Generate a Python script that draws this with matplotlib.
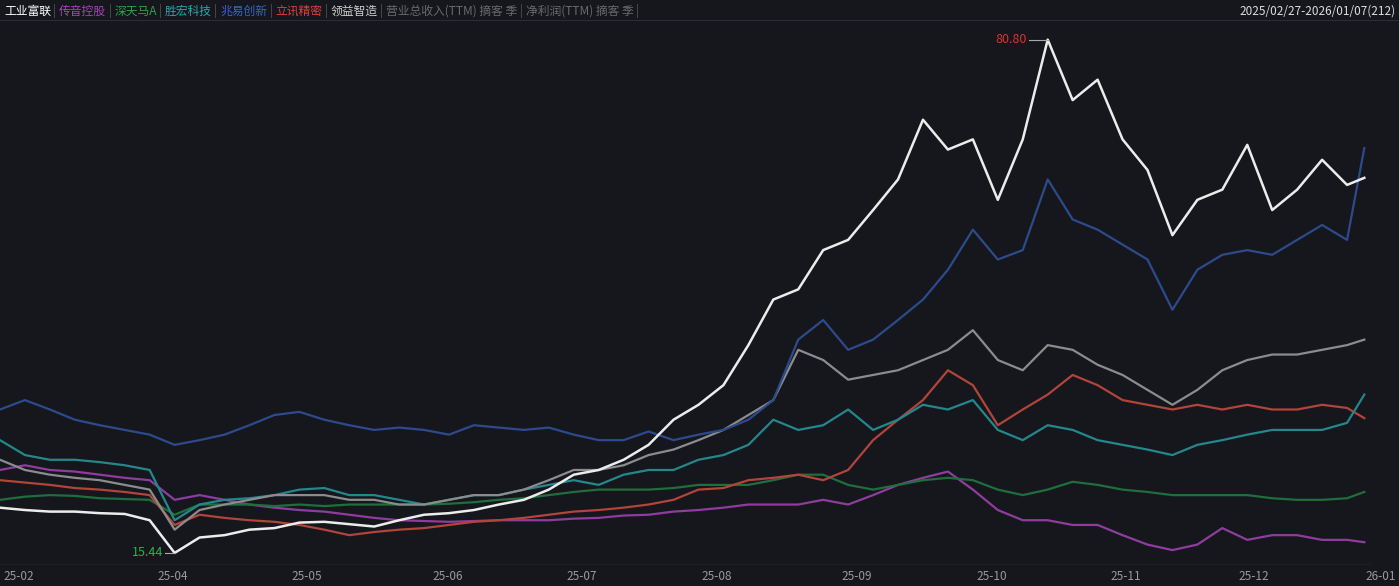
import numpy as np
import matplotlib
matplotlib.use("Agg")
import matplotlib.pyplot as plt

plt.rcParams['font.family'] = ['Noto Sans CJK SC', 'DejaVu Sans']

days = list(np.arange(55) * 3.9) + [213.3]
tick_pos = [1, 27, 48, 70, 91, 112, 134, 155, 176, 196, 214]
tick_labels = ['25-02', '25-04', '25-05', '25-06', '25-07', '25-08', '25-09', '25-10', '25-11', '25-12', '26-01']

white = [21.2,20.9,20.7,20.7,20.5,20.4,19.6,15.44,17.4,17.7,18.4,18.6,19.3,19.4,19.1,18.8,19.6,20.3,20.5,20.9,
         21.6,22.2,23.5,25.4,26.0,27.3,29.2,32.4,34.3,36.8,41.9,47.7,49.0,54.0,55.3,59.1,63.0,70.6,66.8,68.1,
         60.4,68.1,80.8,73.1,75.7,68.1,64.2,55.9,60.4,61.7,67.4,59.1,61.7,65.5,62.3,63.2]
navy = [33.7,34.9,33.7,32.4,31.7,31.1,30.5,29.2,29.8,30.5,31.7,33.0,33.4,32.4,31.7,31.1,31.4,31.1,30.5,31.7,
        31.4,31.1,31.4,30.5,29.8,29.8,30.9,29.8,30.5,31.1,32.4,34.9,42.6,45.1,41.3,42.6,45.1,47.7,51.5,56.6,
        52.8,54.0,63.0,57.9,56.6,54.7,52.8,46.4,51.5,53.4,54.0,53.4,55.3,57.2,55.3,67.0]
teal = [29.8,27.9,27.3,27.3,27.0,26.6,26.0,19.6,21.6,22.2,22.4,22.8,23.5,23.7,22.8,22.8,22.2,21.6,22.2,22.8,
        22.8,23.5,24.1,24.7,24.1,25.4,26.0,26.0,27.3,27.9,29.2,32.4,31.1,31.7,33.7,31.1,32.4,34.3,33.7,34.9,
        31.1,29.8,31.7,31.1,29.8,29.2,28.6,27.9,29.2,29.8,30.5,31.1,31.1,31.1,32.0,35.6]
gray = [27.3,26.0,25.4,25.0,24.7,24.1,23.5,18.4,20.9,21.6,22.2,22.8,22.8,22.8,22.2,22.2,21.6,21.6,22.2,22.8,
        22.8,23.5,24.7,26.0,26.0,26.6,27.9,28.6,29.8,31.1,33.0,34.9,41.3,40.0,37.5,38.1,38.7,40.0,41.3,43.8,
        40.0,38.7,41.9,41.3,39.4,38.1,36.2,34.3,36.2,38.7,40.0,40.7,40.7,41.3,41.9,42.6]
red = [24.7,24.4,24.1,23.7,23.5,23.2,22.8,19.0,20.3,19.9,19.6,19.4,19.0,18.4,17.7,18.1,18.4,18.6,19.0,19.4,
       19.6,19.9,20.3,20.7,20.9,21.2,21.6,22.2,23.5,23.7,24.7,25.0,25.4,24.7,26.0,29.8,32.4,34.9,38.7,36.8,
       31.7,33.7,35.6,38.1,36.8,34.9,34.3,33.7,34.3,33.7,34.3,33.7,33.7,34.3,33.9,32.6]
green = [22.2,22.6,22.8,22.7,22.4,22.3,22.2,20.3,21.6,21.6,21.6,21.4,21.6,21.4,21.6,21.6,21.6,21.6,21.7,21.9,
         22.2,22.4,22.8,23.2,23.5,23.5,23.5,23.7,24.1,24.1,24.1,24.7,25.4,25.4,24.1,23.5,24.1,24.7,25.0,24.7,
         23.5,22.8,23.5,24.5,24.1,23.5,23.2,22.8,22.8,22.8,22.8,22.4,22.2,22.2,22.4,23.2]
purple = [26.0,26.6,26.0,25.8,25.4,25.0,24.7,22.2,22.8,22.2,21.6,21.2,20.9,20.7,20.3,19.9,19.6,19.5,19.4,19.5,
          19.6,19.6,19.6,19.8,19.9,20.2,20.3,20.7,20.9,21.2,21.6,21.6,21.6,22.2,21.6,22.8,24.1,25.0,25.8,23.5,
          20.9,19.6,19.6,19.0,19.0,17.7,16.5,15.8,16.5,18.6,17.1,17.7,17.7,17.1,17.1,16.8]

bg = '#15171d'
fig = plt.figure(figsize=(13.99, 5.86), dpi=100, facecolor=bg)
ax = fig.add_axes([0, 21/586, 1372/1399, 545/586], facecolor=bg)

series = [(purple, '#8e3d9e'), (green, '#1f6e3c'), (red, '#b2443a'), (teal, '#24878c'),
          (gray, '#8c8c8c'), (navy, '#2c4a8c'), (white, '#ececec')]
for vals, c in series:
    ax.plot(days, vals, color=c, lw=1.6 if c != '#ececec' else 1.8)

ax.set_xlim(0, 214.5)
ax.set_ylim(13.9, 83.3)
ax.set_xticks([]); ax.set_yticks([])
for s in ax.spines.values():
    s.set_visible(False)
ax.axhline(13.9, color='#3a3d45', lw=1)

# annotations
imax = int(np.argmax(white)); imin = int(np.argmin(white))
ax.plot([days[imax] - 3, days[imax]], [white[imax], white[imax]], color='#aaaaaa', lw=0.8)
ax.text(days[imax] - 3.3, white[imax], f'{white[imax]:.2f}', color='#e03030', fontsize=9, ha='right', va='center')
ax.plot([days[imin] - 1.5, days[imin]], [white[imin], white[imin]], color='#aaaaaa', lw=0.8)
ax.text(days[imin] - 1.8, white[imin], f'{white[imin]:.2f}', color='#2fb34a', fontsize=9, ha='right', va='center')

# x tick labels
for p, l in zip(tick_pos, tick_labels):
    x = p / 214.5 * 1372 / 1399
    ha = 'left' if p < 5 else ('center' if p < 210 else 'right')
    if p > 210:
        x = 1396 / 1399
    fig.text(x if p >= 5 else 3/1399, 9/586, l, color='#9a9a9a', fontsize=8.5, ha=ha, va='center')

# header legend
items = [('工业富联', '#ffffff'), ('传音控股', '#b040c0'), ('深天马A', '#2fa24a'), ('胜宏科技', '#2aa7ad'),
         ('兆易创新', '#3a62c8'), ('立讯精密', '#e0403a'), ('领益智造', '#cfcfcf'),
         ('营业总收入(TTM) 摘客 季', '#6a6a6a'), ('净利润(TTM) 摘客 季', '#6a6a6a')]
x = 4
r = fig.canvas.get_renderer()
for i, (t, c) in enumerate(items):
    tt = fig.text(x / 1399, 575 / 586, t, color=c, fontsize=8.5, va='center')
    w = tt.get_window_extent(r).width
    x += w + 2
    sep = fig.text(x / 1399, 575 / 586, '|', color='#555555', fontsize=8.5, va='center')
    x += sep.get_window_extent(r).width + 3
fig.text(1396 / 1399, 575 / 586, '2025/02/27-2026/01/07(212)', color='#dddddd', fontsize=8.5, ha='right', va='center')
fig.add_artist(plt.Line2D([0, 1], [566/586, 566/586], color='#2a2d35', lw=0.8))

fig.savefig('out.png', dpi=100, facecolor=bg)
